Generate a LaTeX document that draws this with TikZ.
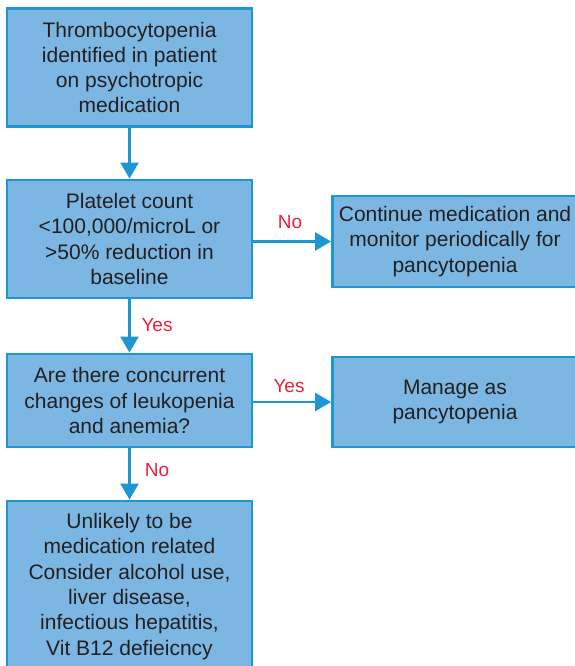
\documentclass[tikz,border=0pt]{standalone}
\usepackage{fontspec}
\setmainfont{Liberation Sans}
\usetikzlibrary{arrows.meta}
\definecolor{boxfill}{RGB}{124,183,227}
\definecolor{boxline}{RGB}{30,150,210}
\definecolor{labelred}{RGB}{232,32,58}
\definecolor{textdark}{RGB}{35,31,32}
\begin{document}
\begin{tikzpicture}[x=1pt,y=-1pt,
  flowbox/.style={draw=boxline, fill=boxfill, line width=2.8pt, rectangle,
    align=center, text=textdark, inner sep=0pt,
    font=\fontsize{21}{25.3}\selectfont},
  flowarrow/.style={draw=boxline, line width=2.5pt,
    -{Triangle[width=18pt,length=16pt]}},
  answer/.style={text=labelred, font=\fontsize{19}{22}\selectfont, inner sep=0pt}]
\useasboundingbox (0,0) rectangle (575,666);
\clip (0,0) rectangle (575,666);

% main column
\node[flowbox, minimum width=245pt, minimum height=118pt] (start) at (129.5,67.5)
  {Thrombocytopenia\\identified in patient\\on psychotropic\\medication};
\node[flowbox, minimum width=245pt, minimum height=118pt] (count) at (129.5,239)
  {Platelet count\\<100,000/microL or\\>50\% reduction in\\baseline};
\node[flowbox, minimum width=245pt, minimum height=93pt] (concur) at (129.5,400.5)
  {Are there concurrent\\changes of leukopenia\\and anemia?};
\node[flowbox, minimum width=245pt, minimum height=171pt] (unlikely) at (129.5,586.5)
  {Unlikely to be\\medication related\\Consider alcohol use,\\liver disease,\\infectious hepatitis,\\Vit B12 defieicncy};

% side column
\node[flowbox, minimum width=245pt, minimum height=91pt] (monitor) at (455,241.5)
  {Continue medication and\\monitor periodically for\\pancytopenia};
\node[flowbox, minimum width=245pt, minimum height=90pt] (manage) at (455,402)
  {Manage as\\pancytopenia};

% connectors
\draw[flowarrow] (start) -- (count);
\draw[flowarrow] (count) -- (concur);
\draw[flowarrow] (concur) -- (unlikely);
\draw[flowarrow] (count.east |- monitor) -- (monitor);
\draw[flowarrow] (concur.east |- manage) -- (manage);

% answers
\node[answer] (lno1) at (290,222) {No};
\node[answer] (lyes1) at (157,325) {Yes};
\node[answer] (lyes2) at (289,386) {Yes};
\node[answer] (lno2) at (157,470) {No};
\end{tikzpicture}
\end{document}
